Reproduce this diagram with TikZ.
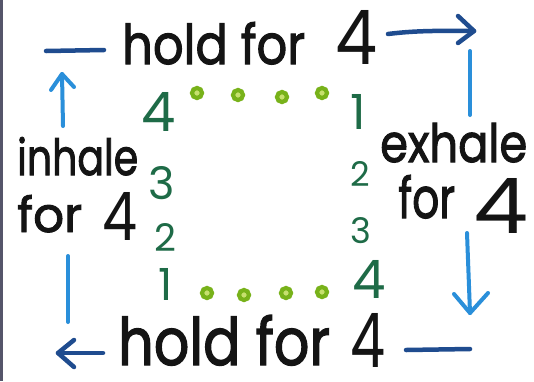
\documentclass[tikz,border=0pt]{standalone}
\usepackage{fontspec}
\setmainfont{Poppins}[FakeBold=2]
\newfontfamily\plainfour{Poppins}
\definecolor{navy}{HTML}{1F4C8F}
\definecolor{sky}{HTML}{2A8FDA}
\definecolor{numgreen}{HTML}{1E6B47}
\definecolor{dotgreen}{HTML}{78B21A}
\definecolor{dotlight}{HTML}{C6E06E}
\definecolor{ink}{HTML}{141414}
\definecolor{edgebar}{HTML}{55556A}
\newcommand\rsz[3]{\resizebox{#1pt}{#2pt}{#3}}
\newcommand\rszh[2]{\resizebox{!}{#1pt}{#2}}
\newcommand\four{{\plainfour 4}}
\tikzset{
  txt/.style={anchor=base west, inner sep=0pt, text=ink},
  num/.style={inner sep=0pt, text=numgreen, font=\plainfour},
  dot/.style={circle, draw=dotgreen, fill=dotlight, line width=4.2pt, minimum size=10pt, inner sep=0pt},
  navyline/.style={draw=navy, line width=4.5pt, line cap=round, line join=round},
  skyline/.style={draw=sky, line width=4pt, line cap=round, line join=round}
}
\begin{document}
\begin{tikzpicture}[x=1pt,y=-1pt]
\useasboundingbox (0,0) rectangle (534,381);
\fill[white] (0,0) rectangle (534,381);
\fill[edgebar] (0,0) rectangle (3,381);

% texts
\node[txt] (holdtop) at (122,64) {\rsz{183}{42}{hold for}\hspace{30pt}\rsz{42}{54}{\four}};
\node[txt] (inhale) at (17,175) {\rsz{121}{38}{inhale}};
\node[txt] (forL) at (17,232) {\rsz{65}{37}{for}\hspace{20pt}\raisebox{-8pt}{\rsz{35}{48}{\four}}};
\node[txt] (exhale) at (380,162) {\rsz{147}{39}{exhale}};
\node[txt] (forR) at (398,218) {\rsz{57}{43}{for}\hspace{18pt}\raisebox{-15pt}{\rsz{55}{55}{\four}}};
\node[txt] (holdbot) at (118,365) {\rsz{212}{50}{hold for}\hspace{20pt}\raisebox{-2pt}{\rsz{35}{54}{\four}}};

% green counts
\node[num] (l4) at (159,112) {\rszh{39}{4}};
\node[num] (l3) at (162,183) {\rszh{33}{3}};
\node[num] (l2) at (165,237) {\rszh{28}{2}};
\node[num] (l1) at (166,284) {\rszh{32}{1}};
\node[num] (r1) at (358,112) {\rszh{35}{1}};
\node[num] (r2) at (360,174) {\rszh{25}{2}};
\node[num] (r3) at (361,231) {\rszh{26}{3}};
\node[num] (r4) at (369,279) {\rszh{38}{4}};

% dots
\node[dot] (t1) at (197,93) {};
\node[dot] (t2) at (238,95) {};
\node[dot] (t3) at (282,97) {};
\node[dot] (t4) at (322,93) {};
\node[dot] (b1) at (207,293) {};
\node[dot] (b2) at (244,295) {};
\node[dot] (b3) at (286,293) {};
\node[dot] (b4) at (322,292) {};

% arrow coordinates
\coordinate (tlA) at (46,51);
\coordinate (tlB) at (104,50);
\coordinate (trA) at (388,34);
\coordinate (trTip) at (474,31);
\coordinate (trU) at (458,16);
\coordinate (trD) at (458,43);
\coordinate (rA) at (470,51);
\coordinate (rB) at (470,115);
\coordinate (luTip) at (62,74);
\coordinate (luL) at (51,90);
\coordinate (luR) at (74,87);
\coordinate (luB) at (63,126);
\coordinate (llA) at (68,256);
\coordinate (llB) at (68,322);
\coordinate (rdA) at (467,233);
\coordinate (rdTip) at (470,313);
\coordinate (rdL) at (454,294);
\coordinate (rdR) at (488,293);
\coordinate (blA) at (103,353);
\coordinate (blTip) at (58,353);
\coordinate (blU) at (74,340);
\coordinate (blD) at (74,367);
\coordinate (brA) at (406,350);
\coordinate (brB) at (470,349);

\draw[navyline] (tlA) -- (tlB);
\draw[navyline] (trA) .. controls (420,30) and (445,31) .. (trTip);
\draw[navyline] (trU) -- (trTip) -- (trD);
\draw[skyline] (rA) -- (rB);
\draw[skyline] (luB) -- (luTip);
\draw[skyline] (luL) -- (luTip) -- (luR);
\draw[skyline] (llA) -- (llB);
\draw[skyline] (rdA) -- (rdTip);
\draw[skyline] (rdL) -- (rdTip) -- (rdR);
\draw[navyline] (blA) -- (blTip);
\draw[navyline] (blU) -- (blTip) -- (blD);
\draw[navyline] (brA) -- (brB);
\end{tikzpicture}
\end{document}
